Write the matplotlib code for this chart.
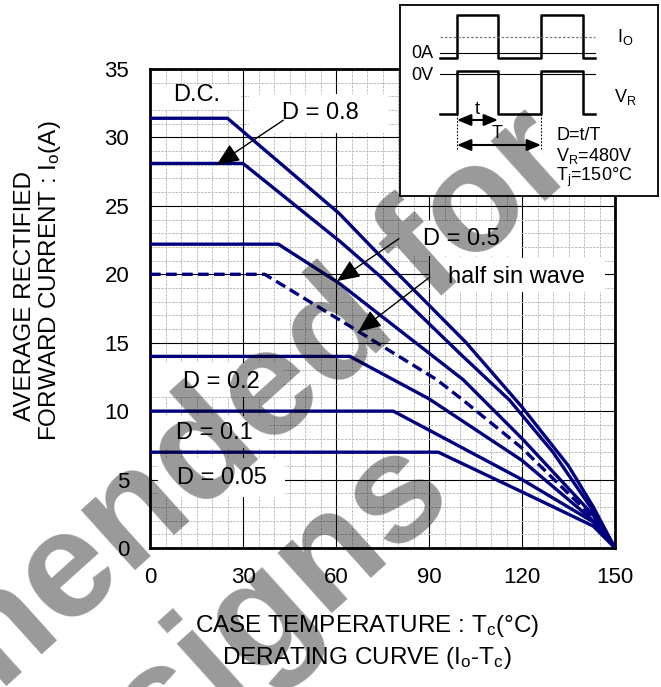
import matplotlib
matplotlib.use('Agg')
import matplotlib.pyplot as plt
from matplotlib.patches import Rectangle

plt.rcParams['font.family'] = ['Liberation Sans', 'DejaVu Sans']
plt.rcParams['mathtext.fontset'] = 'custom'
plt.rcParams['mathtext.rm'] = 'Liberation Sans'
plt.rcParams['mathtext.it'] = 'Liberation Sans:italic'
plt.rcParams['mathtext.bf'] = 'Liberation Sans:bold'

# ---------------- data ----------------
tc_dc = [0, 25, 61, 74, 102, 120, 135, 143, 150]
io_dc = [31.4, 31.4, 24.45, 21.4, 15.0, 10.3, 6.0, 3.0, 0]

tc_d08 = [0, 30, 61.3, 74, 100, 116, 130, 143, 150]
io_d08 = [28.1, 28.1, 22.4, 19.9, 14.2, 10.8, 7.0, 2.7, 0]

tc_d05 = [0, 41.4, 61.3, 101, 120, 143, 150]
io_d05 = [22.2, 22.2, 19.3, 12.3, 8.0, 2.4, 0]

tc_hsin = [0, 37, 61.3, 92.5, 101, 120, 143, 150]
io_hsin = [20.0, 20.0, 16.65, 12.3, 10.8, 7.3, 2.2, 0]

tc_d02 = [0, 64.5, 90, 120, 143, 150]
io_d02 = [14.0, 14.0, 10.9, 6.4, 2.0, 0]

tc_d01 = [0, 78.5, 120, 143, 150]
io_d01 = [10.0, 10.0, 5.0, 1.9, 0]

tc_d005 = [0, 93, 120, 143, 150]
io_d005 = [7.0, 7.0, 4.1, 1.6, 0]

x_ticks = [0, 30, 60, 90, 120, 150]
y_ticks = [0, 5, 10, 15, 20, 25, 30, 35]

# inset waveform (schematic, inset pixel units)
wave_edges = [440, 457, 498, 541, 583, 595]
io_low, io_high, io_avg, io_zero = 58, 15, 37, 53
vr_low, vr_high, vr_zero = 114, 71, 74

# ---------------- figure ----------------
W, H = 661, 687
fig = plt.figure(figsize=(W / 100, H / 100), dpi=100)
ax = fig.add_axes([150 / W, 1 - 548 / H, 465 / W, 479 / H])

navy = '#00007f'
lw = 2.4
ax.plot(tc_dc, io_dc, color=navy, lw=lw, zorder=3)
ax.plot(tc_d08, io_d08, color=navy, lw=lw, zorder=3)
ax.plot(tc_d05, io_d05, color=navy, lw=lw, zorder=3)
ax.plot(tc_hsin, io_hsin, color=navy, lw=lw, zorder=3, dashes=(3.2, 1.6))
ax.plot(tc_d02, io_d02, color=navy, lw=lw, zorder=3)
ax.plot(tc_d01, io_d01, color=navy, lw=lw, zorder=3)
ax.plot(tc_d005, io_d005, color=navy, lw=lw, zorder=3)

ax.set_xlim(0, 150)
ax.set_ylim(0, 35)
ax.set_xticks(x_ticks)
ax.set_yticks(y_ticks)
ax.set_xticks(range(0, 151, 5), minor=True)
ax.set_yticks(range(0, 36, 1), minor=True)
ax.set_axisbelow(True)
ax.grid(which='major', color='k', lw=0.8)
ax.grid(which='minor', color='#bcbcbc', lw=0.7, linestyle=(0, (2.5, 1.2)))
ax.tick_params(which='both', length=0, labelsize=16)
ax.tick_params(axis='y', pad=15)
ax.tick_params(axis='x', pad=14)
for s in ax.spines.values():
    s.set_linewidth(2)

# white label boxes
boxes = [(0.4, 32.0, 29.5, 33.8), (32, 30.3, 77, 33.2), (80.6, 21.3, 119.4, 23.9),
         (90.3, 18.7, 146.8, 21.2), (0.4, 11.05, 42.9, 13.5), (0.4, 7.3, 38, 9.65),
         (2.6, 3.75, 43.5, 6.55)]
for x0, y0, x1, y1 in boxes:
    ax.add_patch(Rectangle((x0, y0), x1 - x0, y1 - y0, facecolor='white',
                           edgecolor='none', zorder=1.5))

fs = 17
ax.text(15.2, 33.1, 'D.C.', fontsize=fs, ha='center', va='center', zorder=5)
ax.text(54.8, 31.8, 'D = 0.8', fontsize=fs, ha='center', va='center', zorder=5)
ax.text(100.5, 22.55, 'D = 0.5', fontsize=fs, ha='center', va='center', zorder=5)
ax.text(118.3, 19.8, 'half sin wave', fontsize=fs, ha='center', va='center', zorder=5)
ax.text(23.1, 12.15, 'D = 0.2', fontsize=fs, ha='center', va='center', zorder=5)
ax.text(20.7, 8.41, 'D = 0.1', fontsize=fs, ha='center', va='center', zorder=5)
ax.text(23.2, 5.11, 'D = 0.05', fontsize=fs, ha='center', va='center', zorder=5)

ap = dict(arrowstyle='-|>,head_length=0.7,head_width=0.3', color='k', lw=1.0,
          mutation_scale=20, shrinkA=0, shrinkB=0)
ax.annotate('', xy=(21.5, 28.0), xytext=(43, 31.26), arrowprops=ap, zorder=6)
ax.annotate('', xy=(60.3, 19.5), xytext=(80.3, 22.6), arrowprops=ap, zorder=6)
ax.annotate('', xy=(67.2, 15.8), xytext=(90.3, 19.8), arrowprops=ap, zorder=6)

# axis labels
lfs = 17.5
fig.text(25 / W, 1 - 296 / H, 'AVERAGE RECTIFIED', rotation=90, fontsize=lfs,
         ha='center', va='center')
fig.text(50 / W, 1 - 281 / H, r'FORWARD CURRENT : I$_\mathregular{o}$(A)', rotation=90,
         fontsize=lfs, ha='center', va='center')
fig.text(367 / W, 1 - 626 / H, r'CASE TEMPERATURE : T$_\mathregular{c}$(°C)', fontsize=lfs,
         ha='center', va='center')
fig.text(367 / W, 1 - 658 / H, r'DERATING CURVE (I$_\mathregular{o}$-T$_\mathregular{c}$)',
         fontsize=lfs, ha='center', va='center')

# ---------------- inset ----------------
iax = fig.add_axes([400 / W, 1 - 196 / H, 258 / W, 191 / H])
iax.set_xlim(400, 658)
iax.set_ylim(196, 5)
iax.set_xticks([])
iax.set_yticks([])
for s in iax.spines.values():
    s.set_linewidth(1.3)

e = wave_edges
wx = [e[0], e[1], e[1], e[2], e[2], e[3], e[3], e[4], e[4], e[5]]
io_w = [io_low, io_low, io_high, io_high, io_low, io_low, io_high, io_high, io_low, io_low]
vr_w = [vr_low, vr_low, vr_high, vr_high, vr_low, vr_low, vr_high, vr_high, vr_low, vr_low]
iax.plot(wx, io_w, color='k', lw=1.8)
iax.plot(wx, vr_w, color='k', lw=1.8)
iax.plot([e[0], e[5]], [io_zero, io_zero], color='k', lw=0.8)
iax.plot([e[0], e[5]], [vr_zero, vr_zero], color='k', lw=0.8)
iax.plot([e[0], e[5]], [io_avg, io_avg], color='#777777', lw=0.9, linestyle=(0, (2, 1.5)))
for xv in (e[1], e[3]):
    iax.plot([xv, xv], [vr_low, 149], color='k', lw=0.8, linestyle=(0, (1.5, 1.5)))
ap2 = dict(arrowstyle='<|-|>,head_length=0.6,head_width=0.25', color='k', lw=1.5,
           mutation_scale=14, shrinkA=0, shrinkB=0)
iax.annotate('', xy=(e[2], 120), xytext=(e[1], 120), arrowprops=ap2)
iax.annotate('', xy=(e[3], 145), xytext=(e[1], 145), arrowprops=ap2)
ifs = 13
iax.text(477, 109, 't', fontsize=ifs, ha='center', va='center')
iax.text(497, 134, 'T', fontsize=ifs, ha='center', va='center')
iax.text(422, 53, '0A', fontsize=ifs, ha='center', va='center')
iax.text(422, 75, '0V', fontsize=ifs, ha='center', va='center')
iax.text(625, 37, r'I$_\mathregular{O}$', fontsize=ifs, ha='center', va='center')
iax.text(625, 97, r'V$_\mathregular{R}$', fontsize=ifs, ha='center', va='center')
iax.text(556, 135, 'D=t/T', fontsize=ifs, ha='left', va='center')
iax.text(556, 156, r'V$_\mathregular{R}$=480V', fontsize=ifs, ha='left', va='center')
iax.text(556, 177, r'T$_\mathregular{j}$=150°C', fontsize=ifs, ha='left', va='center')

# ---------------- watermark ----------------
wm = dict(rotation=42, rotation_mode='anchor', ha='right', va='baseline', fontsize=110,
          fontweight='bold', color='k', alpha=0.4, zorder=10)
fig.text(582 / W, 1 - 168 / H, 'Not recommended for', **wm)
fig.text(457 / W, 1 - 500 / H, 'new designs', **wm)

fig.savefig('out.png', dpi=100)
